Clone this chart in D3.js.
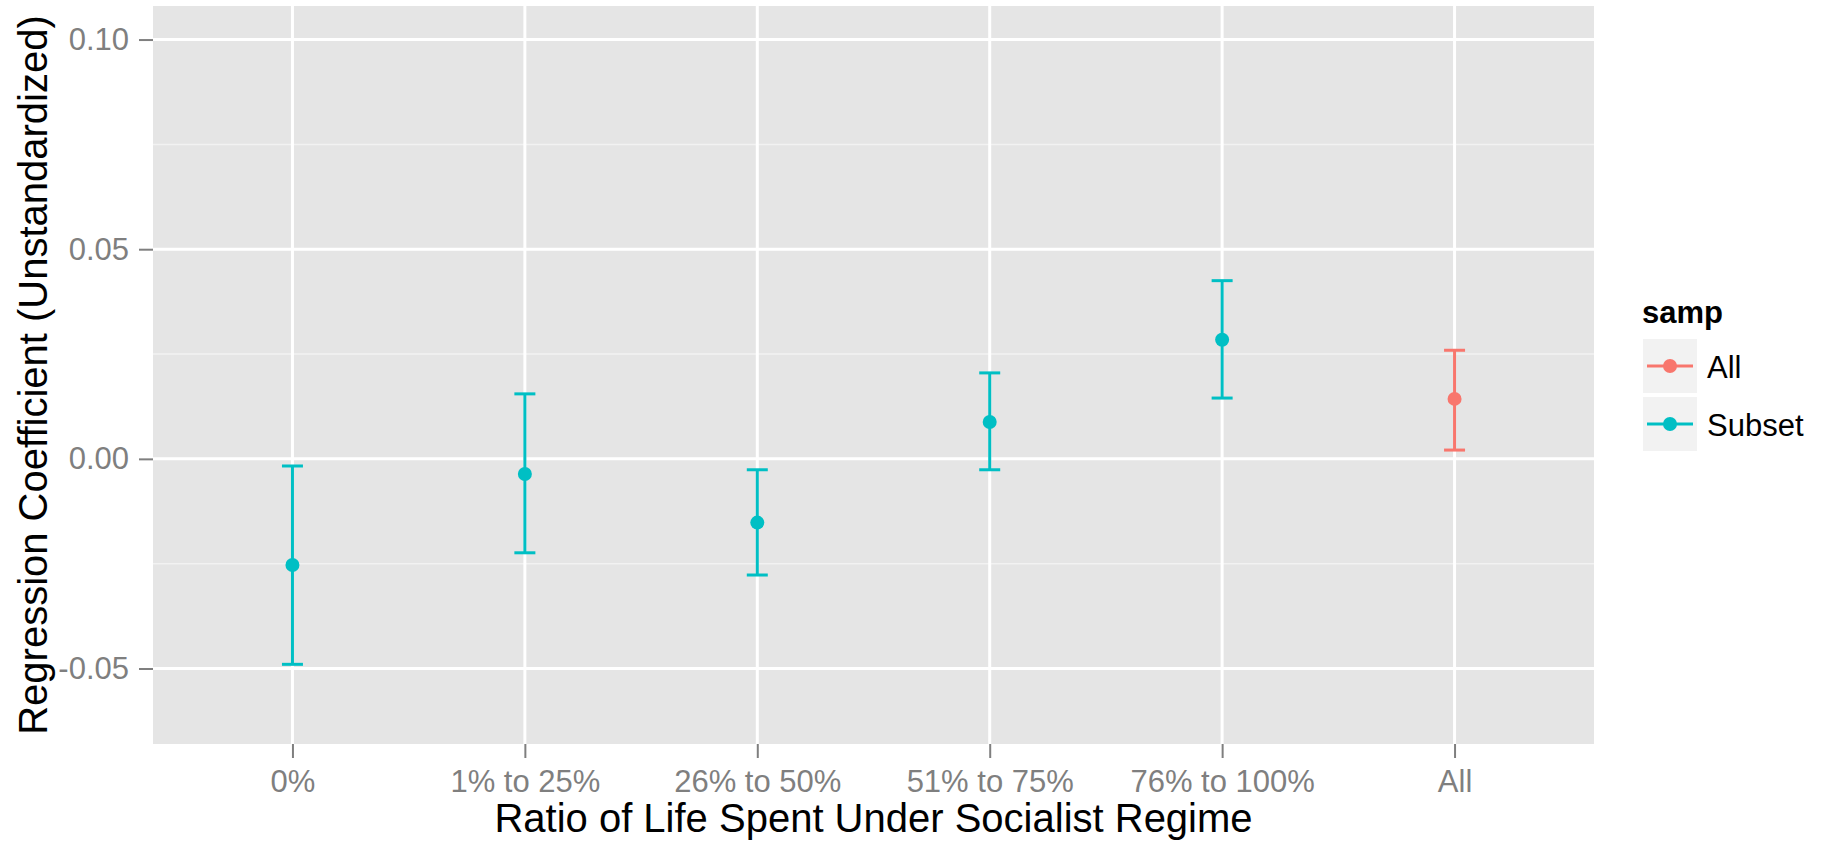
<!DOCTYPE html>
<html>
<head>
<meta charset="utf-8">
<script src="https://cdn.jsdelivr.net/npm/d3@7"></script>
<style>
  html, body { margin: 0; padding: 0; background: #ffffff; }
  svg { display: block; font-family: "Liberation Sans", Arial, sans-serif; }
</style>
</head>
<body>
<svg id="chart" width="1821" height="841"></svg>
<script>
// ---- data ----
const categories = ["0%", "1% to 25%", "26% to 50%", "51% to 75%", "76% to 100%", "All"];
const samp = ["Subset", "Subset", "Subset", "Subset", "Subset", "All"];
const estimate = [-0.0253, -0.0036, -0.0152, 0.0088, 0.0284, 0.0143];
const lower = [-0.0490, -0.0224, -0.0277, -0.0026, 0.0145, 0.0021];
const upper = [-0.0017, 0.0155, -0.0026, 0.0205, 0.0425, 0.0259];
const yTicks = [-0.05, 0.00, 0.05, 0.10];
const yTickLabels = ["-0.05", "0.00", "0.05", "0.10"];
const yMinor = [-0.025, 0.025, 0.075];
const legendLevels = ["All", "Subset"];
const legendTitle = "samp";
const xTitle = "Ratio of Life Spent Under Socialist Regime";
const yTitle = "Regression Coefficient (Unstandardized)";

// ---- layout ----
const W = 1821, H = 841;
const panel = { left: 153, right: 1594, top: 6, bottom: 744 };

const svg = d3.select("#chart");
svg.append("rect").attr("width", W).attr("height", H).attr("fill", "#ffffff");

const x = d3.scalePoint().domain(categories).range([panel.left, panel.right]).padding(0.6);
const y = d3.scaleLinear().domain([-0.068, 0.108]).range([panel.bottom, panel.top]);
const color = d3.scaleOrdinal().domain(legendLevels).range(["#F8766D", "#00BFC4"]);

// panel background
svg.append("rect")
  .attr("x", panel.left).attr("y", panel.top)
  .attr("width", panel.right - panel.left).attr("height", panel.bottom - panel.top)
  .attr("fill", "#E5E5E5");

const grid = svg.append("g");
// minor horizontal
grid.selectAll("line.minor").data(yMinor).enter().append("line")
  .attr("x1", panel.left).attr("x2", panel.right)
  .attr("y1", d => y(d)).attr("y2", d => y(d))
  .attr("stroke", "#F2F2F2").attr("stroke-width", 1.5);
// major horizontal
grid.selectAll("line.majy").data(yTicks).enter().append("line")
  .attr("x1", panel.left).attr("x2", panel.right)
  .attr("y1", d => y(d)).attr("y2", d => y(d))
  .attr("stroke", "#ffffff").attr("stroke-width", 3);
// major vertical
grid.selectAll("line.majx").data(categories).enter().append("line")
  .attr("x1", d => x(d)).attr("x2", d => x(d))
  .attr("y1", panel.top).attr("y2", panel.bottom)
  .attr("stroke", "#ffffff").attr("stroke-width", 3);

// ---- axes ----
const yAxis = d3.axisLeft(y).tickValues(yTicks)
  .tickFormat((d, i) => yTickLabels[i]).tickSize(14).tickPadding(10);
const gy = svg.append("g").attr("transform", `translate(${panel.left},0)`).call(yAxis);
gy.select(".domain").remove();
gy.selectAll(".tick line").attr("stroke", "#7F7F7F").attr("stroke-width", 2);
gy.selectAll(".tick text").attr("fill", "#7F7F7F").attr("font-size", 31)
  .attr("font-family", "Liberation Sans, Arial, sans-serif");

const xAxis = d3.axisBottom(x).tickSize(14).tickPadding(12);
const gx = svg.append("g").attr("transform", `translate(0,${panel.bottom})`).call(xAxis);
gx.select(".domain").remove();
gx.selectAll(".tick line").attr("stroke", "#7F7F7F").attr("stroke-width", 2);
gx.selectAll(".tick text").attr("fill", "#7F7F7F").attr("font-size", 31)
  .attr("font-family", "Liberation Sans, Arial, sans-serif");

// axis titles
svg.append("text").attr("x", (panel.left + panel.right) / 2).attr("y", 832)
  .attr("text-anchor", "middle").attr("font-size", 40).attr("fill", "#000")
  .text(xTitle);
svg.append("text")
  .attr("transform", `translate(47,${(panel.top + panel.bottom) / 2}) rotate(-90)`)
  .attr("text-anchor", "middle").attr("font-size", 40).attr("fill", "#000")
  .text(yTitle);

// ---- error bars & points ----
const marks = svg.append("g");
const idx = d3.range(categories.length);
const capHalf = 10.5;
marks.selectAll("line.bar").data(idx).enter().append("line")
  .attr("x1", i => x(categories[i])).attr("x2", i => x(categories[i]))
  .attr("y1", i => y(lower[i])).attr("y2", i => y(upper[i]))
  .attr("stroke", i => color(samp[i])).attr("stroke-width", 3);
marks.selectAll("line.capU").data(idx).enter().append("line")
  .attr("x1", i => x(categories[i]) - capHalf).attr("x2", i => x(categories[i]) + capHalf)
  .attr("y1", i => y(upper[i])).attr("y2", i => y(upper[i]))
  .attr("stroke", i => color(samp[i])).attr("stroke-width", 3);
marks.selectAll("line.capL").data(idx).enter().append("line")
  .attr("x1", i => x(categories[i]) - capHalf).attr("x2", i => x(categories[i]) + capHalf)
  .attr("y1", i => y(lower[i])).attr("y2", i => y(lower[i]))
  .attr("stroke", i => color(samp[i])).attr("stroke-width", 3);
marks.selectAll("circle").data(idx).enter().append("circle")
  .attr("cx", i => x(categories[i])).attr("cy", i => y(estimate[i]))
  .attr("r", 7).attr("fill", i => color(samp[i]));

// ---- legend ----
const lg = svg.append("g");
lg.append("text").attr("x", 1642).attr("y", 323)
  .attr("font-size", 31).attr("font-weight", "bold").attr("fill", "#000")
  .text(legendTitle);
const keyTop = 339, keySize = 54, keyStep = 58, keyLeft = 1643;
legendLevels.forEach((lev, k) => {
  const ky = keyTop + k * keyStep;
  lg.append("rect").attr("x", keyLeft).attr("y", ky)
    .attr("width", keySize).attr("height", keySize).attr("fill", "#F2F2F2");
  const cy = ky + keySize / 2;
  lg.append("line").attr("x1", keyLeft + 4).attr("x2", keyLeft + keySize - 4)
    .attr("y1", cy).attr("y2", cy)
    .attr("stroke", color(lev)).attr("stroke-width", 3);
  lg.append("circle").attr("cx", keyLeft + keySize / 2).attr("cy", cy).attr("r", 7)
    .attr("fill", color(lev));
  lg.append("text").attr("x", keyLeft + keySize + 10).attr("y", cy + 12)
    .attr("font-size", 31).attr("fill", "#000").text(lev);
});
</script>
</body>
</html>
